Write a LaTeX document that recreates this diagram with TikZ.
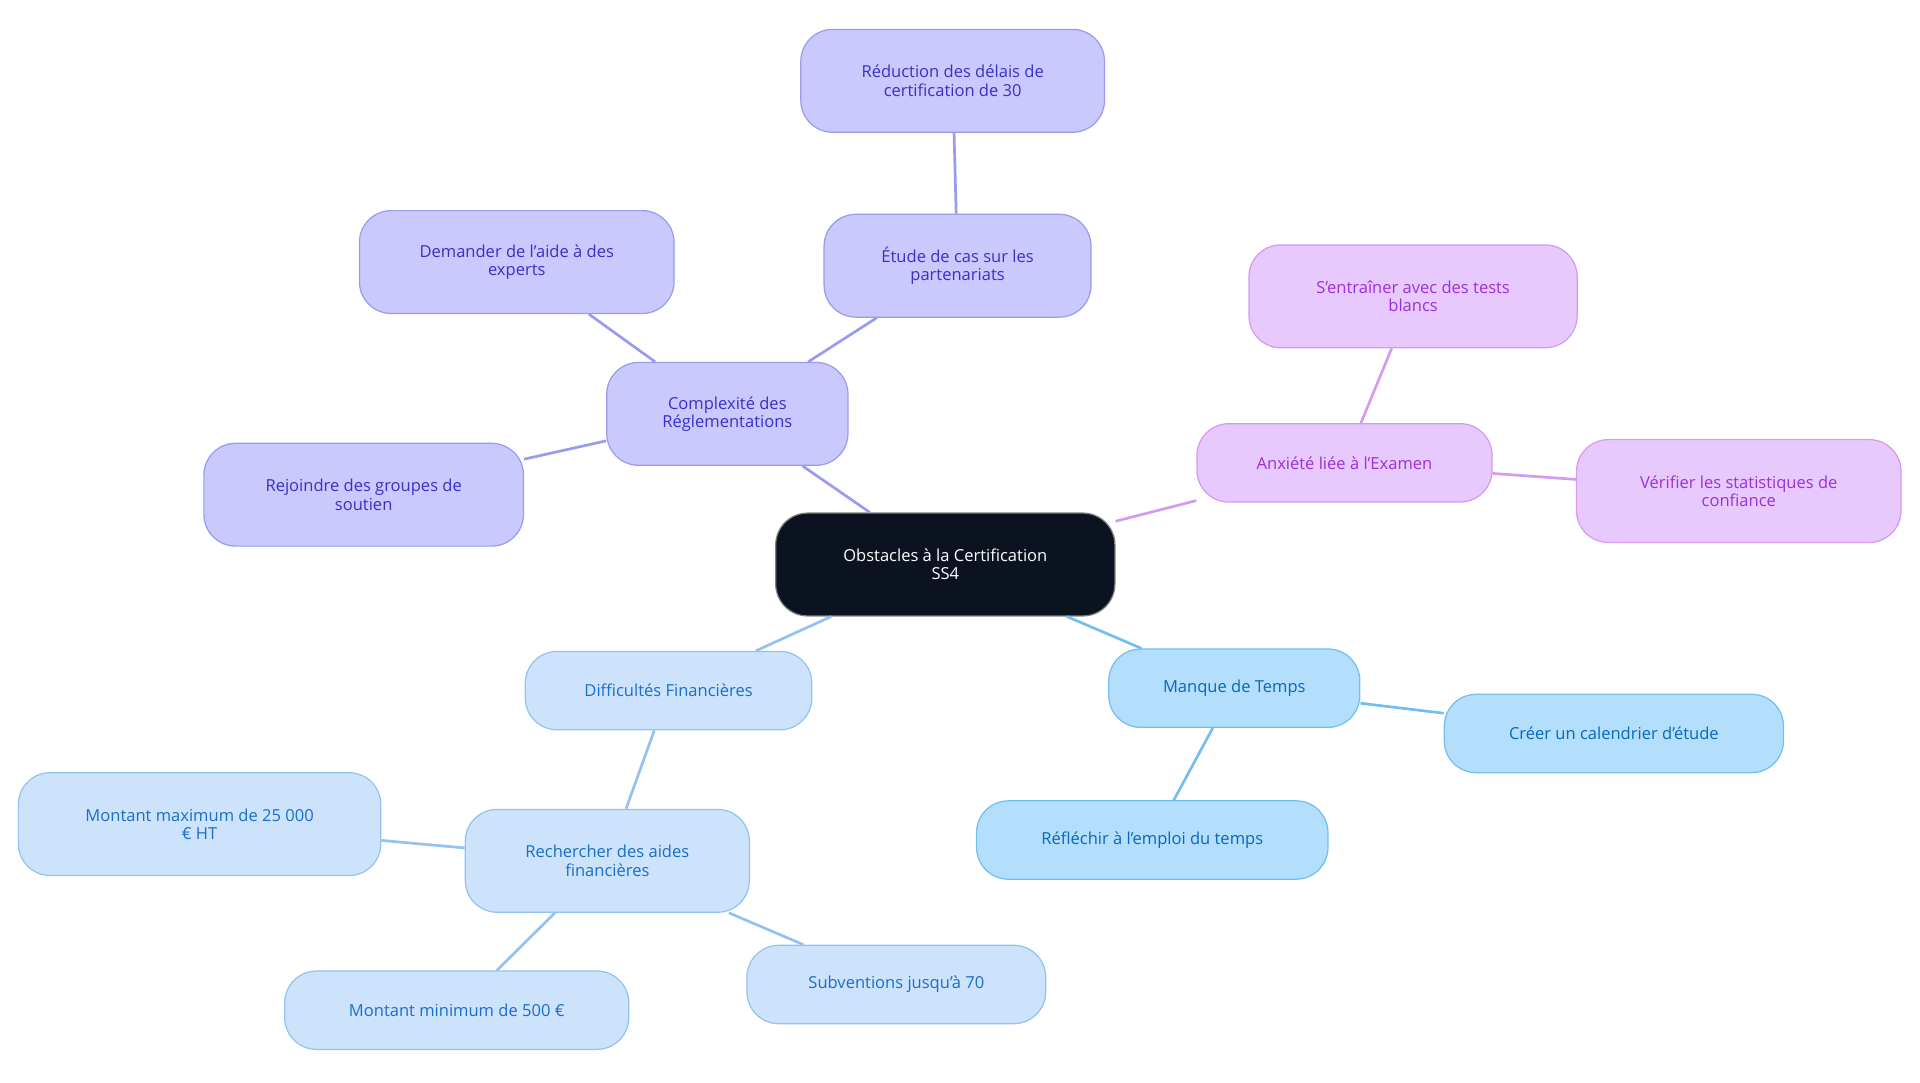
\documentclass[tikz,border=0pt]{standalone}
\usepackage{fontspec}
\setmainfont{Open Sans}
\begin{document}
\begin{tikzpicture}[x=1pt,y=-1pt,
 box/.style={draw,line width=1pt,rounded corners=26pt,align=center,inner sep=0pt,font=\fontsize{13.5}{15}\selectfont},
 pu/.style={box,fill=cP,draw=bP,text=tP},
 vi/.style={box,fill=cV,draw=bV,text=tV},
 bl/.style={box,fill=cB,draw=bB,text=tB},
 lb/.style={box,fill=cL,draw=bL,text=tL},
 e/.style={line width=2.2pt}]
\definecolor{cP}{HTML}{C9C9FD}\definecolor{bP}{HTML}{9A9AF0}\definecolor{tP}{HTML}{3B2FC9}
\definecolor{cV}{HTML}{E8C9FD}\definecolor{bV}{HTML}{D49AF0}\definecolor{tV}{HTML}{9B30D9}
\definecolor{cB}{HTML}{B3DFFD}\definecolor{bB}{HTML}{73BEF0}\definecolor{tB}{HTML}{0A68B8}
\definecolor{cL}{HTML}{CDE3FB}\definecolor{bL}{HTML}{94C2F0}\definecolor{tL}{HTML}{1A6DCB}
\useasboundingbox (0,0) rectangle (1568,884);
\node[box,fill={rgb,255:red,11;green,19;blue,32},draw=gray,text=white,minimum width=277pt,minimum height=84pt] (r) at (772,461) {Obstacles à la Certification\\SS4};
\node[pu,minimum width=197pt,minimum height=84pt] (c) at (594,338) {Complexité des\\Réglementations};
\node[pu,minimum width=257pt,minimum height=84pt] (c1) at (422,214) {Demander de l'aide à des\\experts};
\node[pu,minimum width=218pt,minimum height=84pt] (c2) at (782,217) {Étude de cas sur les\\partenariats};
\node[pu,minimum width=248pt,minimum height=84pt] (c3) at (778,66) {Réduction des délais de\\certification de 30};
\node[pu,minimum width=261pt,minimum height=84pt] (c4) at (297,404) {Rejoindre des groupes de\\soutien};
\node[vi,minimum width=241pt,minimum height=64pt] (a) at (1098,378) {Anxiété liée à l'Examen};
\node[vi,minimum width=268pt,minimum height=84pt] (a1) at (1154,242) {S'entraîner avec des tests\\blancs};
\node[vi,minimum width=265pt,minimum height=84pt] (a2) at (1420,401) {Vérifier les statistiques de\\confiance};
\node[bl,minimum width=205pt,minimum height=64pt] (m) at (1008,562) {Manque de Temps};
\node[bl,minimum width=277pt,minimum height=64pt] (m1) at (1318,599) {Créer un calendrier d'étude};
\node[bl,minimum width=287pt,minimum height=64pt] (m2) at (941,686) {Réfléchir à l'emploi du temps};
\node[lb,minimum width=234pt,minimum height=64pt] (d) at (546,564) {Difficultés Financières};
\node[lb,minimum width=232pt,minimum height=84pt] (d1) at (496,703) {Rechercher des aides\\financières};
\node[lb,minimum width=296pt,minimum height=84pt] (d2) at (163,673) {Montant maximum de 25 000\\€ HT};
\node[lb,minimum width=281pt,minimum height=64pt] (d3) at (373,825) {Montant minimum de 500 €};
\node[lb,minimum width=244pt,minimum height=64pt] (d4) at (732,804) {Subventions jusqu'à 70};
\draw[e,bP] (r)--(c) (c)--(c1) (c)--(c2) (c2)--(c3) (c)--(c4);
\draw[e,bV] (r)--(a) (a)--(a1) (a)--(a2);
\draw[e,bB] (r)--(m) (m)--(m1) (m)--(m2);
\draw[e,bL] (r)--(d) (d)--(d1) (d1)--(d2) (d1)--(d3) (d1)--(d4);
\end{tikzpicture}
\end{document}
